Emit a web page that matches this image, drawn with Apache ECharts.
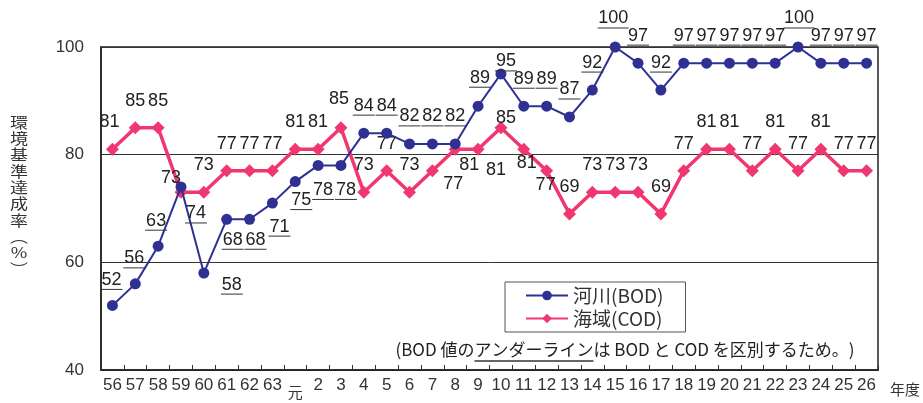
<!DOCTYPE html>
<html><head><meta charset="utf-8">
<script src="https://cdn.jsdelivr.net/npm/echarts@6/dist/echarts.min.js"></script>
<style>html,body{margin:0;padding:0;background:#fff}#c{width:923px;height:403px}</style>
</head><body><div id="c"></div>
<script>
const categories = ['56','57','58','59','60','61','62','63','元','2','3','4','5','6','7','8','9','10','11','12','13','14','15','16','17','18','19','20','21','22','23','24','25','26'];
const bodValues = [52,56,63,74,58,68,68,71,75,78,78,84,84,82,82,82,89,95,89,89,87,92,100,97,92,97,97,97,97,97,100,97,97,97];
const codValues = [81,85,85,73,73,77,77,77,81,81,85,73,77,73,77,81,81,85,81,77,69,73,73,73,69,77,81,81,77,81,77,81,77,77];
const yTicks = [40, 60, 80, 100];
const yTitle = '環境基準達成率︵%︶';

// label placement (styling only)
const bodLabelOffsets = {0:[-1,-25],1:[-1,-25],2:[-2,-25],3:[15,27],4:[28,12],5:[6,21],6:[6,21],7:[7,24],8:[6,19],9:[5,25],10:[5,25],16:[2,-28],17:[5,-12],22:[-2,-28],30:[1,-28]};
const codLabelOffsets = {0:[-3,-27],3:[-10,-14],10:[-2,-29],14:[21,13],15:[14,16],16:[18,21],17:[5,-10],18:[3,14],19:[-1,14]};

const LAT = "'Liberation Sans', Arial, sans-serif";
const CJK = "'Noto Sans CJK JP', 'Noto Sans', sans-serif";
const BLUE = '#2E3192';
const RED = '#F0376F';

const chart = echarts.init(document.getElementById('c'), null, {renderer: 'canvas'});

function items(values, offsets, dy) {
  return values.map((v, i) => {
    const o = offsets[i] || [0, -27];
    return {value: v, label: {offset: [o[0], o[1] + dy]}};
  });
}

// measure annotation for underline
const annText1 = '(BOD 値の';
const annText2 = 'アンダーライン';
const annText3 = 'は BOD と COD を区別するため。)';
const annFont = '17px ' + CJK;
const ctx = document.createElement('canvas').getContext('2d');
ctx.font = annFont;
const w1 = ctx.measureText(annText1).width;
const w2 = ctx.measureText(annText2).width;
const wAll = ctx.measureText(annText1 + annText2 + annText3).width;
const annLeft = 625 - wAll / 2;

chart.setOption({
  animation: false,
  grid: {left: 101, right: 43, top: 47, bottom: 33, show: true, borderColor: '#222', borderWidth: 1.5, backgroundColor: 'transparent'},
  xAxis: {
    type: 'category', data: categories, boundaryGap: true,
    name: '年度', nameLocation: 'end', nameGap: 12,
    nameTextStyle: {fontFamily: CJK, fontSize: 15, color: '#333', verticalAlign: 'top', padding: [12, 0, 0, 0]},
    axisLine: {show: true, lineStyle: {color: '#222', width: 1.5}},
    axisTick: {show: true, inside: true, length: 5, alignWithLabel: false, lineStyle: {color: '#333'}},
    axisLabel: {interval: 0, margin: 7, color: '#333', fontFamily: LAT, fontSize: 17,
      formatter: v => v === '元' ? '{g|元}' : v,
      rich: {g: {fontFamily: CJK, fontSize: 15, padding: [8, 0, 0, 0], color: '#333'}}},
    splitLine: {show: false}
  },
  yAxis: {
    type: 'value', min: yTicks[0], max: yTicks[yTicks.length - 1], interval: 20,
    axisLine: {show: true, lineStyle: {color: '#222', width: 1.5}},
    axisTick: {show: false},
    axisLabel: {margin: 17, color: '#333', fontFamily: LAT, fontSize: 17},
    splitLine: {show: true, lineStyle: {color: '#333', width: 1}}
  },
  legend: {
    orient: 'vertical', left: 505, top: 282,
    backgroundColor: '#fff', borderColor: '#555', borderWidth: 1,
    padding: [4, 22, 4, 20], itemGap: 4, itemWidth: 42, itemHeight: 12,
    textStyle: {fontFamily: CJK, fontSize: 19, color: '#333'},
    data: ['河川(BOD)', '海域(COD)']
  },
  graphic: [
    {
      type: 'text', x: 19, y: 114, scaleX: 1.2, z: 10,
      style: {text: yTitle.split('').join('\n'), font: '15px ' + CJK, lineHeight: 16.3, fill: '#333', textAlign: 'center', textVerticalAlign: 'top'}
    },
    {
      type: 'group', left: annLeft, top: 341,
      children: [
        {type: 'text', x: 0, y: 0, style: {text: annText1 + annText2 + annText3, font: annFont, fill: '#222', textVerticalAlign: 'top'}},
        {type: 'line', shape: {x1: w1, y1: 20, x2: w1 + w2, y2: 20}, style: {stroke: '#333', lineWidth: 1.5}}
      ]
    }
  ],
  series: [
    {
      name: '海域(COD)', type: 'line', z: 2,
      data: items(codValues, codLabelOffsets, 0),
      symbol: 'diamond', symbolSize: 13,
      lineStyle: {color: RED, width: 3.5}, itemStyle: {color: RED},
      label: {show: true, position: 'inside', color: '#222', fontFamily: LAT, fontSize: 18}
    },
    {
      name: '河川(BOD)', type: 'line', z: 3,
      data: items(bodValues, bodLabelOffsets, 1),
      symbol: 'circle', symbolSize: 11,
      lineStyle: {color: BLUE, width: 2}, itemStyle: {color: BLUE},
      label: {show: true, position: 'inside',
        formatter: p => '{n|' + p.value + '}\n{' + (String(p.value).length === 3 ? 'u3' : 'u2') + '|}',
        rich: {
          n: {fontFamily: LAT, fontSize: 18, lineHeight: 16, color: '#222'},
          u2: {width: 22, height: 1, lineHeight: 3, backgroundColor: '#333'},
          u3: {width: 31, height: 1, lineHeight: 3, backgroundColor: '#333'}
        }}
    }
  ]
});
</script></body></html>
